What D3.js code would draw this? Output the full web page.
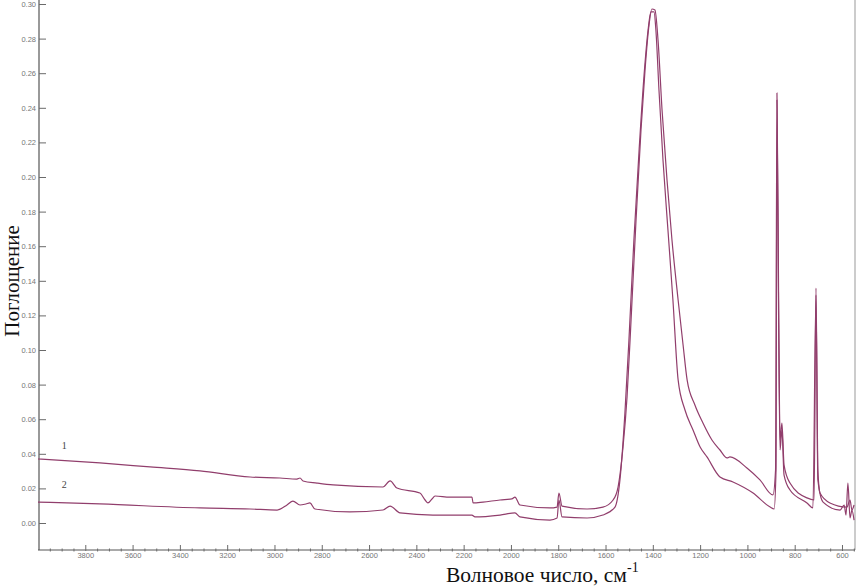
<!DOCTYPE html>
<html>
<head>
<meta charset="utf-8">
<script src="https://cdn.jsdelivr.net/npm/d3@7"></script>
<style>
    body { margin: 0; background: #fff; }
    #chart { width: 863px; height: 588px; }
    .chart-ir__tick text { font-family: "Liberation Sans", Arial, sans-serif; font-size: 7.5px; fill: #767676; }
    .chart-ir__tick line { stroke: #6a6a6a; }
    .chart-ir__title { font-family: "Liberation Serif", "Times New Roman", serif; fill: #111; }
    .chart-ir__line { fill: none; stroke: #913e6c; stroke-width: 1.2; stroke-linejoin: round; }
</style>
</head>
<body>
<div id="chart"></div>
<script>
// spectrum 1 (upper)
const wavenumbers1 = [4000, 3738, 3526, 3315, 3103, 2977, 2905, 2892, 2879, 2820, 2752, 2541, 2511, 2482, 2385, 2363, 2351, 2334, 2321, 2258, 2165, 2160, 2118, 2046, 1996, 1983, 1962, 1835, 1805, 1797, 1784, 1678, 1611, 1568, 1547, 1526, 1509, 1492, 1471, 1450, 1433, 1416, 1404, 1391, 1378, 1361, 1340, 1319, 1293, 1272, 1255, 1222, 1188, 1150, 1116, 1086, 1074, 1002, 947, 892, 881, 875, 868, 862, 854, 845, 820, 748, 718, 710, 702, 693, 651, 579, 566, 558, 549];
const absorbance1 = [0.0370, 0.0347, 0.0324, 0.0301, 0.0266, 0.0260, 0.0254, 0.0260, 0.0243, 0.0231, 0.0220, 0.0208, 0.0243, 0.0202, 0.0173, 0.0133, 0.0116, 0.0139, 0.0156, 0.0150, 0.0150, 0.0116, 0.0121, 0.0133, 0.0139, 0.0150, 0.0104, 0.0087, 0.0092, 0.0173, 0.0098, 0.0081, 0.0092, 0.0133, 0.0208, 0.0439, 0.0728, 0.1173, 0.1751, 0.2272, 0.2618, 0.2879, 0.2971, 0.2965, 0.2792, 0.2387, 0.1983, 0.1636, 0.1289, 0.1029, 0.0827, 0.0682, 0.0578, 0.0480, 0.0422, 0.0376, 0.0382, 0.0318, 0.0249, 0.0162, 0.0306, 0.2486, 0.1289, 0.0480, 0.0578, 0.0335, 0.0231, 0.0145, 0.0133, 0.1358, 0.0306, 0.0173, 0.0116, 0.0092, 0.0133, 0.0075, 0.0104];

// spectrum 2 (lower)
const wavenumbers2 = [4000, 3738, 3315, 3103, 2989, 2947, 2922, 2892, 2867, 2850, 2829, 2681, 2541, 2511, 2469, 2330, 2165, 2152, 2046, 1983, 1962, 1835, 1805, 1797, 1784, 1678, 1611, 1560, 1539, 1518, 1501, 1480, 1458, 1437, 1420, 1408, 1395, 1387, 1374, 1357, 1336, 1315, 1293, 1264, 1230, 1200, 1171, 1116, 1061, 976, 904, 887, 879, 875, 868, 862, 854, 845, 820, 748, 723, 710, 702, 680, 608, 591, 583, 575, 566, 558, 549];
const absorbance2 = [0.0121, 0.0110, 0.0087, 0.0081, 0.0075, 0.0104, 0.0127, 0.0104, 0.0110, 0.0116, 0.0081, 0.0064, 0.0075, 0.0098, 0.0058, 0.0046, 0.0046, 0.0035, 0.0046, 0.0058, 0.0035, 0.0017, 0.0029, 0.0133, 0.0035, 0.0029, 0.0046, 0.0092, 0.0249, 0.0636, 0.1058, 0.1636, 0.2156, 0.2590, 0.2850, 0.2954, 0.2954, 0.2850, 0.2503, 0.2098, 0.1694, 0.1289, 0.0827, 0.0653, 0.0538, 0.0439, 0.0382, 0.0266, 0.0237, 0.0173, 0.0092, 0.0081, 0.0306, 0.2445, 0.1173, 0.0422, 0.0538, 0.0277, 0.0191, 0.0116, 0.0087, 0.1318, 0.0249, 0.0121, 0.0075, 0.0104, 0.0046, 0.0231, 0.0029, 0.0075, 0.0017];

const xTickValues = [3800, 3600, 3400, 3200, 3000, 2800, 2600, 2400, 2200, 2000, 1800, 1600, 1400, 1200, 1000, 800, 600];
const yTickValues = [0.00, 0.02, 0.04, 0.06, 0.08, 0.10, 0.12, 0.14, 0.16, 0.18, 0.20, 0.22, 0.24, 0.26, 0.28, 0.30];
const seriesLabels = [
    { text: "1", wn: 3900, value: 0.043 },
    { text: "2", wn: 3900, value: 0.020 },
];
const yTitle = "Поглощение";
const xTitle = "Волновое число, см";

class Spectrum {
    constructor(div){
        this.settings = {
            mainClass: "chart-ir",
            container: div,
            width: 863,
            height: 588,
            plot: { left: 38, right: 855, top: 0, bottom: 550 },
        };
        this.elements = {};
    }

    render(){
        this.createSvg();
        this.calcScales();
        this.drawFrame();
        this.drawXaxis();
        this.drawYaxis();
        this.drawLines();
        this.drawLabels();
        this.drawTitles();
    }

    createSvg(){
        const { container, width, height } = this.settings;
        this.elements.svg = d3.select(container).append("svg")
            .attr("width", width).attr("height", height);
    }

    calcScales(){
        const { plot } = this.settings;
        this.elements.xScale = d3.scaleLinear().domain([4000, 545]).range([plot.left, plot.right]);
        this.elements.yScale = d3.scaleLinear().domain([0, 0.30]).range([523, 4]);
    }

    drawFrame(){
        const { svg } = this.elements;
        const { plot } = this.settings;
        svg.append("line")
            .attr("x1", plot.left + 1).attr("x2", plot.left + 1)
            .attr("y1", plot.top).attr("y2", plot.bottom)
            .attr("stroke", "#555").attr("stroke-width", 1.2);
        svg.append("line")
            .attr("x1", plot.right).attr("x2", plot.right)
            .attr("y1", plot.top).attr("y2", plot.bottom)
            .attr("stroke", "#999").attr("stroke-width", 1);
        svg.append("line")
            .attr("x1", plot.left).attr("x2", plot.right)
            .attr("y1", plot.bottom).attr("y2", plot.bottom)
            .attr("stroke", "#555").attr("stroke-width", 1);
    }

    drawXaxis(){
        const { svg, xScale } = this.elements;
        const { mainClass, plot } = this.settings;

        // minor ticks every 50
        const minor = d3.range(3950, 549, -50).filter((v) => v % 200 !== 0);
        svg.append("g")
            .attr("class", `${mainClass}__tick`)
            .attr("transform", `translate(0,${plot.bottom + 1.5})`)
            .call(d3.axisBottom(xScale).tickValues(minor).tickSize(-3).tickFormat(""))
            .call((g) => g.select(".domain").remove());

        svg.append("g")
            .attr("class", `${mainClass}__tick`)
            .attr("transform", `translate(0,${plot.bottom + 1})`)
            .call(d3.axisBottom(xScale).tickValues(xTickValues).tickSize(-6).tickPadding(2).tickFormat(d3.format("d")))
            .call((g) => g.select(".domain").remove());
    }

    drawYaxis(){
        const { svg, yScale } = this.elements;
        const { mainClass, plot } = this.settings;

        svg.append("g")
            .attr("class", `${mainClass}__tick`)
            .attr("transform", `translate(${plot.left + 1},0)`)
            .call(d3.axisLeft(yScale).tickValues(yTickValues).tickSize(-7).tickPadding(3).tickFormat(d3.format(".2f")))
            .call((g) => g.select(".domain").remove());
    }

    drawLines(){
        const { svg, xScale, yScale } = this.elements;
        const { mainClass } = this.settings;

        const series = [
            wavenumbers1.map((wn, i) => [wn, absorbance1[i]]),
            wavenumbers2.map((wn, i) => [wn, absorbance2[i]]),
        ];
        const line = d3.line()
            .curve(d3.curveMonotoneX)
            .x((d) => xScale(d[0])).y((d) => yScale(d[1]));

        svg.selectAll(`.${mainClass}__line`).data(series)
            .join("path")
            .attr("class", `${mainClass}__line`)
            .attr("d", line);
    }

    drawLabels(){
        const { svg, xScale, yScale } = this.elements;
        svg.selectAll(".series-label").data(seriesLabels)
            .join("text")
            .attr("class", "series-label")
            .attr("x", (d) => xScale(d.wn))
            .attr("y", (d) => yScale(d.value))
            .attr("font-family", "Liberation Serif, serif")
            .attr("font-size", 10)
            .attr("fill", "#444")
            .text((d) => d.text);
    }

    drawTitles(){
        const { svg } = this.elements;
        const { mainClass } = this.settings;

        svg.append("text")
            .attr("class", `${mainClass}__title`)
            .attr("transform", "translate(19,281) rotate(-90)")
            .attr("text-anchor", "middle")
            .attr("font-size", 21)
            .text(yTitle);

        const xt = svg.append("text")
            .attr("class", `${mainClass}__title`)
            .attr("x", 446).attr("y", 582)
            .attr("font-size", 21.5)
            .text(xTitle);
        xt.append("tspan")
            .attr("font-size", 14)
            .attr("dy", -10)
            .text("-1");
    }
}

new Spectrum(document.getElementById("chart")).render();
</script>
</body>
</html>
